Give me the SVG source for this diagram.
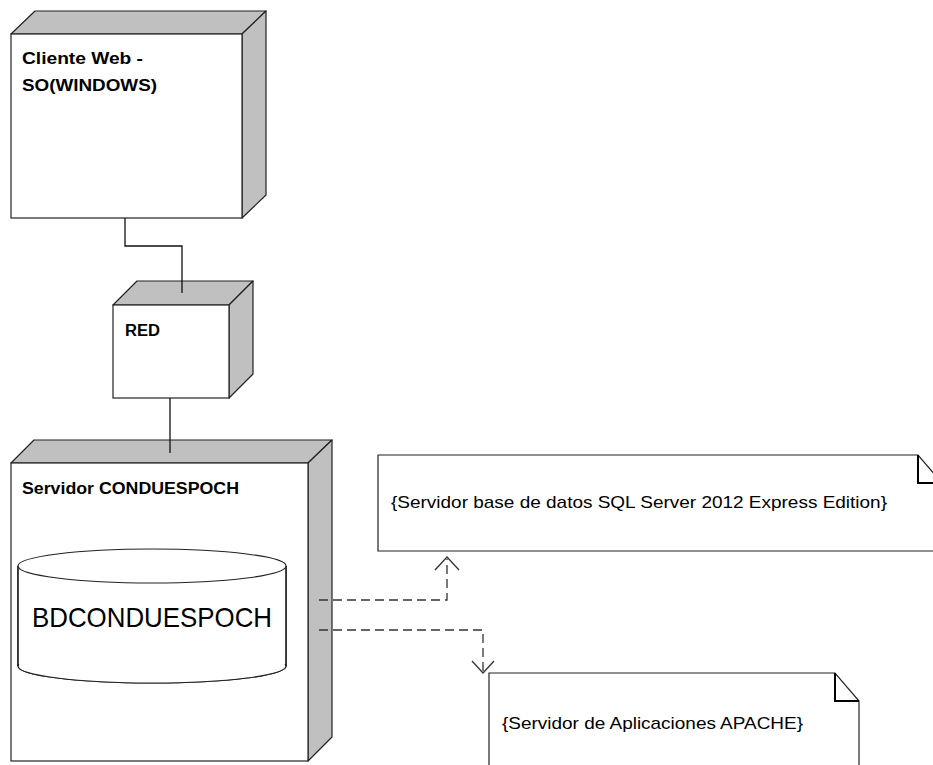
<svg xmlns="http://www.w3.org/2000/svg" width="933" height="765" viewBox="0 0 933 765">
<style>
  .front { fill: #ffffff; stroke: #222; stroke-width: 1.2; }
  .side { fill: #c0c0c0; stroke: #222; stroke-width: 1.2; stroke-linejoin: round; }
  .lbl { font-family: "Liberation Sans", Arial, sans-serif; fill: #000; }
  .b { font-weight: bold; font-size: 16px; }
  .note { fill: #ffffff; stroke: #222; stroke-width: 1.2; }
  .fold { fill: none; stroke: #000; stroke-width: 2; }
  .conn { fill: none; stroke: #111; stroke-width: 1.3; }
  .dash { fill: none; stroke: #333; stroke-width: 1.3; stroke-dasharray: 9 5; }
  .head { fill: none; stroke: #333; stroke-width: 1.3; }
</style>
<rect width="933" height="765" fill="#ffffff"/>

<g id="cliente-web">
  <polygon class="side" points="11,34 35,11 266,11 242,34"/>
  <polygon class="side" points="242,34 266,11 266,195 242,218"/>
  <rect class="front" x="11" y="34" width="231" height="184"/>
  <text class="lbl b" x="22" y="64" textLength="121" lengthAdjust="spacingAndGlyphs">Cliente Web -</text>
  <text class="lbl b" x="22" y="91" textLength="135" lengthAdjust="spacingAndGlyphs">SO(WINDOWS)</text>
</g>

<g id="red">
  <polygon class="side" points="113,305 137,281 253,281 229,305"/>
  <polygon class="side" points="229,305 253,281 253,374 229,398"/>
  <rect class="front" x="113" y="305" width="116" height="93"/>
  <text class="lbl b" x="125" y="336" textLength="35" lengthAdjust="spacingAndGlyphs">RED</text>
</g>

<g id="servidor">
  <polygon class="side" points="11,463 34,440 332,440 308,463"/>
  <polygon class="side" points="308,463 332,440 332,737 308,761"/>
  <rect class="front" x="11" y="463" width="297" height="298"/>
  <text class="lbl b" x="22" y="494" textLength="217" lengthAdjust="spacingAndGlyphs">Servidor CONDUESPOCH</text>
</g>

<g id="bdconduespoch">
  <path class="front" d="M18,566 V666 A134,17 0 0 0 286,666 V566"/>
  <ellipse class="front" cx="152" cy="666" rx="134" ry="17"/>
  <rect x="18.6" y="566" width="266.8" height="98" fill="#ffffff"/>
  <path class="conn" d="M18,566 V666 M286,566 V666"/>
  <ellipse class="front" cx="152" cy="566" rx="134" ry="17"/>
  <text class="lbl" x="32" y="627" font-size="28" textLength="240" lengthAdjust="spacingAndGlyphs">BDCONDUESPOCH</text>
</g>

<g id="nota-sql">
  <path class="note" d="M378,455 H918 L942,483 V551 H378 Z"/>
  <path class="fold" d="M918,455 V483 H942"/>
  <text class="lbl" x="391" y="508" font-size="17" textLength="496" lengthAdjust="spacingAndGlyphs">{Servidor base de datos SQL Server 2012 Express Edition}</text>
</g>

<g id="nota-apache">
  <path class="note" d="M489,673 H835 L859,701 V770 H489 Z"/>
  <path class="fold" d="M835,673 V701 H859"/>
  <text class="lbl" x="502" y="729" font-size="17" textLength="301" lengthAdjust="spacingAndGlyphs">{Servidor de Aplicaciones APACHE}</text>
</g>

<g id="connectors">
  <path class="conn" d="M125,218 V246 H182 V293"/>
  <path class="conn" d="M170,398 V453"/>
  <path class="dash" d="M319,600 H447 V559"/>
  <path class="head" d="M435,570 L447,557 L459,570"/>
  <path class="dash" d="M319,630 H483 V672"/>
  <path class="head" d="M472,661 L483,673 L494,661"/>
</g>
</svg>
